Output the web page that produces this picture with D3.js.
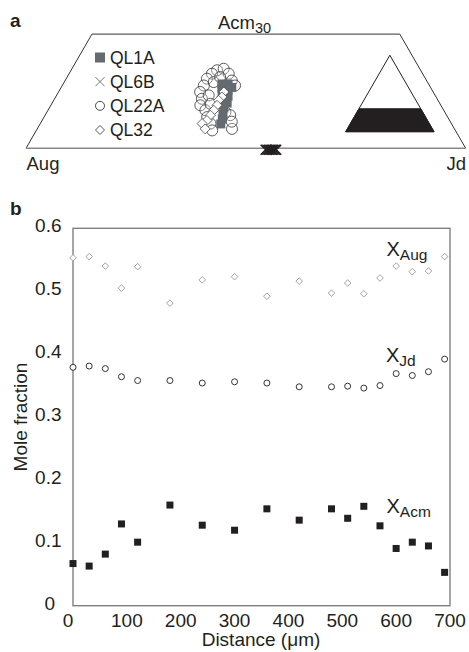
<!DOCTYPE html>
<html><head><meta charset="utf-8">
<script src="https://cdn.jsdelivr.net/npm/d3@7"></script>
<style>
html,body{margin:0;padding:0;background:#fff;}
text{font-family:"Liberation Sans",Arial,Helvetica,sans-serif;fill:#231f20;}
</style></head>
<body>
<svg id="c" width="469" height="652"></svg>
<script>
// ---------- Panel a data: ternary points [jd, acm] (aug = 1 - jd - acm) ----------
const ql1a = [[0.361,0.169],[0.375,0.169],[0.383,0.153],[0.372,0.148],[0.391,0.137],[0.385,0.127],
  [0.398,0.119],[0.397,0.106],[0.403,0.090],[0.408,0.077],[0.411,0.064],[0.381,0.116],
  [0.367,0.158],[0.388,0.160]];
const ql6b = [[0.545,0],[0.549,0],[0.553,0],[0.556,0],[0.559,0],[0.562,0],[0.566,0],[0.569,0]];
const ql22a = [[0.332,0.205],[0.345,0.209],[0.325,0.196],[0.363,0.196],[0.320,0.183],[0.379,0.178],
  [0.393,0.165],[0.322,0.165],[0.322,0.148],[0.335,0.130],[0.340,0.113],[0.358,0.100],[0.371,0.082],
  [0.387,0.065],[0.400,0.047],[0.406,0.095],[0.421,0.087],[0.443,0.051],[0.340,0.174],[0.348,0.187],
  [0.346,0.139],[0.361,0.117],[0.433,0.070]];
const ql32 = [[0.376,0.148],[0.378,0.135],[0.375,0.126],[0.378,0.113],[0.377,0.100],[0.376,0.087],
  [0.375,0.073],[0.368,0.065],[0.382,0.051]];
const legendLabels = ["QL1A","QL6B","QL22A","QL32"];
const acmMax = 0.3;

// ---------- Panel b data ----------
const distance = [0,30,60,90,120,180,240,300,360,420,480,510,540,570,600,630,660,690];
const xAug = [0.553,0.555,0.540,0.505,0.539,0.481,0.518,0.523,0.492,0.516,0.497,0.513,0.496,0.521,0.540,0.531,0.532,0.555];
const xJd  = [0.379,0.381,0.377,0.364,0.358,0.358,0.354,0.356,0.354,0.348,0.348,0.349,0.346,0.350,0.369,0.366,0.372,0.392];
const xAcm = [0.067,0.063,0.082,0.130,0.101,0.160,0.128,0.120,0.154,0.136,0.154,0.139,0.158,0.127,0.091,0.101,0.095,0.053];
const xTicks = [0,100,200,300,400,500,600,700];
const yTicks = [0,0.1,0.2,0.3,0.4,0.5,0.6];

const svg = d3.select("#c");

// ================= Panel a =================
svg.append("text").attr("x",10).attr("y",27).attr("font-size",19).attr("font-weight","bold").text("a");

const tx = d3.scaleLinear().domain([0,1]).range([26,465.7]);     // jd + acm/2
const ty = d3.scaleLinear().domain([0,acmMax]).range([148.3,34.1]); // acm
const P = d => [tx(d[0] + d[1]/2), ty(d[1])];

const trap = [[0,0],[1,0],[1-acmMax,acmMax],[0,acmMax]].map(P);
const ga = svg.append("g");
ga.append("path").attr("d", d3.line()([trap[1],trap[2],trap[3],trap[0]]))
  .attr("fill","none").attr("stroke","#333").attr("stroke-width",1);
ga.append("line").attr("x1",trap[0][0]).attr("y1",trap[0][1]).attr("x2",trap[1][0]).attr("y2",trap[1][1])
  .attr("stroke","#888").attr("stroke-width",1.4);

// corner labels
ga.append("text").attr("x",26.5).attr("y",170).attr("font-size",18.5).text("Aug");
ga.append("text").attr("x",466).attr("y",170).attr("font-size",18.5).attr("text-anchor","end").text("Jd");
const acmLab = ga.append("text").attr("x",218).attr("y",29).attr("font-size",18.5);
acmLab.append("tspan").text("Acm");
acmLab.append("tspan").attr("font-size",14.5).attr("dy",4).text("30");

// inset triangle
const ix = d3.scaleLinear().domain([0,1]).range([345.7,434]);
const iy = d3.scaleLinear().domain([0,1]).range([131.7,131.7-88.3*0.866]);
const IP = d => [ix(d[0] + d[1]/2), iy(d[1])];
ga.append("path").attr("d", d3.line()([[0,0],[1,0],[0,1]].map(IP)) + "Z")
  .attr("fill","#fff").attr("stroke","#231f20").attr("stroke-width",1);
ga.append("path").attr("d", d3.line()([[0,0],[1,0],[1-acmMax,acmMax],[0,acmMax]].map(IP)) + "Z")
  .attr("fill","#231f20").attr("stroke","#231f20").attr("stroke-width",1);

// data: circles (QL22A)
ga.selectAll(".c22").data(ql22a).enter().append("circle")
  .attr("cx",d=>P(d)[0]).attr("cy",d=>P(d)[1]).attr("r",5.5)
  .attr("fill","#fff").attr("fill-opacity",0.25).attr("stroke","#333").attr("stroke-width",0.8);
// QL1A squares
const sq = 9;
ga.selectAll(".s1").data(ql1a).enter().append("rect")
  .attr("x",d=>P(d)[0]-sq/2).attr("y",d=>P(d)[1]-sq/2).attr("width",sq).attr("height",sq)
  .attr("fill","#646b70");
// QL32 diamonds
const dia = (cx,cy,r) => `M${cx},${cy-r}L${cx+r},${cy}L${cx},${cy+r}L${cx-r},${cy}Z`;
ga.selectAll(".d32").data(ql32).enter().append("path")
  .attr("d",d=>{const p=P(d);return dia(p[0],p[1],5);})
  .attr("fill","#fff").attr("stroke","#444").attr("stroke-width",0.8);
// QL6B crosses
const cross = (cx,cy,r) => `M${cx-r},${cy-r}L${cx+r},${cy+r}M${cx-r},${cy+r}L${cx+r},${cy-r}`;
ga.selectAll(".x6").data(ql6b).enter().append("path")
  .attr("d",d=>{const p=P(d);return cross(p[0],p[1]+1.5,5);})
  .attr("stroke","#231f20").attr("stroke-width",1.6).attr("fill","none");

// legend
const legY = d3.scalePoint().domain(legendLabels).range([57.5,130]);
legendLabels.forEach((lab,i)=>{
  const y = legY(lab), x = 100;
  if(i===0) ga.append("rect").attr("x",x-5).attr("y",y-5).attr("width",10).attr("height",10).attr("fill","#646b70");
  if(i===1) ga.append("path").attr("d",cross(x,y,4.5)).attr("stroke","#555").attr("stroke-width",0.8);
  if(i===2) ga.append("circle").attr("cx",x).attr("cy",y).attr("r",4.5).attr("fill","#fff").attr("stroke","#333").attr("stroke-width",0.9);
  if(i===3) ga.append("path").attr("d",dia(x,y,4.5)).attr("fill","#fff").attr("stroke","#444").attr("stroke-width",0.9);
  ga.append("text").attr("x",110).attr("y",y+6).attr("font-size",17.5).text(lab);
});

// ================= Panel b =================
svg.append("text").attr("x",10).attr("y",215).attr("font-size",19).attr("font-weight","bold").text("b");

const L=73, R=450, T=228.3, B=605.7;
const x = d3.scaleLinear().domain([0,700]).range([L,R]);
const y = d3.scaleLinear().domain([0,0.6]).range([B,T]);
const gb = svg.append("g");
gb.append("rect").attr("x",L).attr("y",T).attr("width",R-L).attr("height",B-T)
  .attr("fill","none").attr("stroke","#808080").attr("stroke-width",1.4);

// y ticks labels
gb.selectAll(".yt").data(yTicks).enter().append("text")
  .attr("x",d=>d===0?55:61.5).attr("y",d=>y(d)+(d===0?4:3.8)).attr("text-anchor","end")
  .attr("font-size",19).text(d=>d===0?"0":d3.format(".1f")(d));
// x tick labels
gb.selectAll(".xt").data(xTicks).enter().append("text")
  .attr("x",d=>x(d)-(d===0?5:0)).attr("y",B+21).attr("text-anchor","middle")
  .attr("font-size",19).text(d=>d);

gb.append("text").attr("x",261).attr("y",646).attr("text-anchor","middle").attr("font-size",19)
  .text("Distance (\u03bcm)");
gb.append("text").attr("transform",`translate(27,${(T+B)/2}) rotate(-90)`).attr("text-anchor","middle")
  .attr("font-size",19).text("Mole fraction");

// series
gb.selectAll(".aug").data(distance).enter().append("path")
  .attr("d",(d,i)=>dia(x(d),y(xAug[i]),3.3)).attr("fill","#fff").attr("stroke","#999").attr("stroke-width",0.9);
gb.selectAll(".jd").data(distance).enter().append("circle")
  .attr("cx",d=>x(d)).attr("cy",(d,i)=>y(xJd[i])).attr("r",3)
  .attr("fill","#fff").attr("stroke","#333").attr("stroke-width",1);
const s2 = 7;
gb.selectAll(".acm").data(distance).enter().append("rect")
  .attr("x",d=>x(d)-s2/2).attr("y",(d,i)=>y(xAcm[i])-s2/2).attr("width",s2).attr("height",s2)
  .attr("fill","#231f20");

// series labels
function xlab(x0,y0,sub){
  const t = gb.append("text").attr("x",x0).attr("y",y0).attr("font-size",20);
  t.append("tspan").text("X");
  t.append("tspan").attr("font-size",15.5).attr("dy",4).text(sub);
}
xlab(386.5,256,"Aug");
xlab(386,361.5,"Jd");
xlab(386.5,513,"Acm");
</script>
</body></html>
